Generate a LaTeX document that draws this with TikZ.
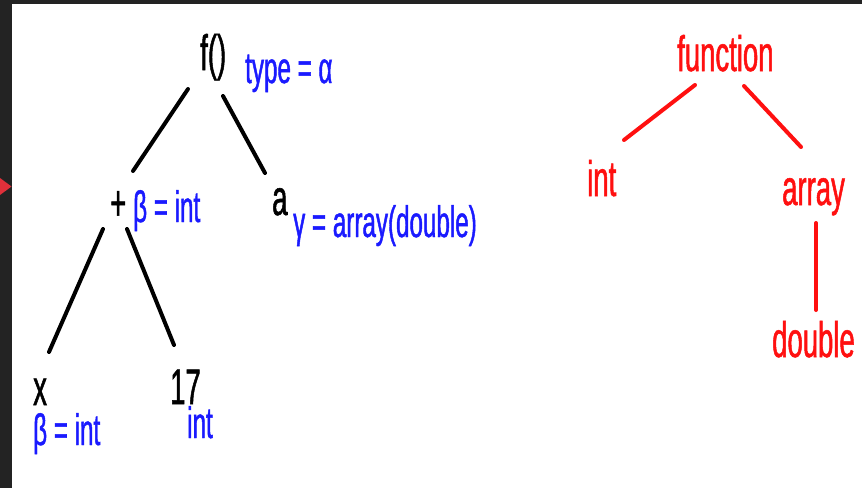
\documentclass[tikz,border=0pt]{standalone}
\usepackage{fontspec}
\newfontfamily\nar[FakeStretch=0.55,FakeBold=1]{Liberation Sans}
\definecolor{frame}{HTML}{232323}
\definecolor{tblue}{HTML}{1A1AFF}
\definecolor{tred}{HTML}{FF1010}
\definecolor{arrred}{HTML}{E0303A}
\tikzset{
  blk/.style={anchor=base west, inner sep=0pt, text=black, font=\nar\fontsize{50}{60}\selectfont},
  blu/.style={anchor=base west, inner sep=0pt, text=tblue, font=\nar\fontsize{44}{52}\selectfont},
  rd/.style={anchor=base west, inner sep=0pt, text=tred, font=\nar\fontsize{50}{60}\selectfont},
  bedge/.style={draw=black, line width=4pt, line cap=round},
  redge/.style={draw=tred, line width=4pt, line cap=round},
}
\begin{document}
\begin{tikzpicture}[x=1pt,y=-1pt]
\useasboundingbox (0,0) rectangle (862,488);
\fill[white] (0,0) rectangle (862,488);
\fill[frame] (0,0) rectangle (11.5,488);
\fill[frame] (0,0) rectangle (862,3.5);
\fill[arrred] (0,178) -- (11.5,186.5) -- (0,195) -- cycle;

% black tree
\node[blk] (f) at (200,70) {f()};
\node[blu] (ftype) at (245,83) {type = α};
\node[blk] (plus) at (110,220) {+};
\node[blu] (plustype) at (133,222) {β = int};
\node[blk] (a) at (272,215) {a};
\node[blu] (atype) at (293,237) {γ = array(double)};
\node[blk] (x) at (33,405) {x};
\node[blu] (xtype) at (33,445) {β = int};
\node[blk] (n17) at (170,404) {17};
\node[blu] (n17type) at (187,438) {int};

\coordinate (f-l) at (188,89);
\coordinate (plus-t) at (133,171);
\coordinate (f-r) at (223,96);
\coordinate (a-t) at (265,173);
\coordinate (plus-l) at (103,229);
\coordinate (x-t) at (49,352);
\coordinate (plus-r) at (127,229);
\coordinate (n17-t) at (174,345);
\draw[bedge] (f-l) -- (plus-t);
\draw[bedge] (f-r) -- (a-t);
\draw[bedge] (plus-l) -- (x-t);
\draw[bedge] (plus-r) -- (n17-t);

% red tree
\node[rd] (fun) at (677,71) {function};
\node[rd] (int) at (587,196) {int};
\node[rd] (arr) at (782,205) {array};
\node[rd] (dbl) at (772,357) {double};

\coordinate (fun-l) at (695,85);
\coordinate (int-t) at (624,140);
\coordinate (fun-r) at (744,86);
\coordinate (arr-t) at (801,147);
\coordinate (arr-b) at (816,223);
\coordinate (dbl-t) at (816,310);
\draw[redge] (fun-l) -- (int-t);
\draw[redge] (fun-r) -- (arr-t);
\draw[redge] (arr-b) -- (dbl-t);
\end{tikzpicture}
\end{document}
